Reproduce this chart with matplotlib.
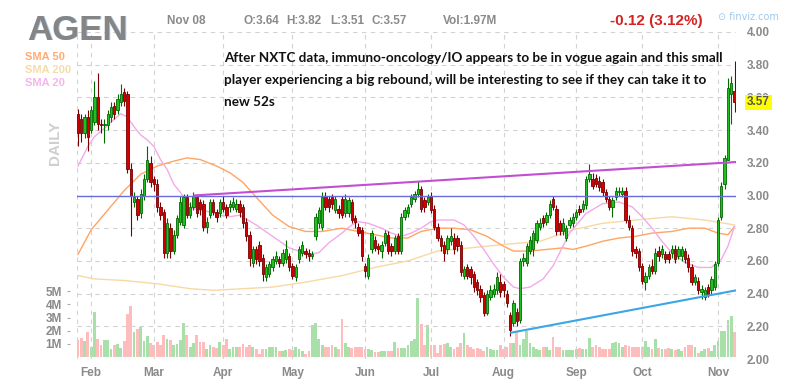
import matplotlib
matplotlib.use("Agg")
import matplotlib.pyplot as plt
import numpy as np

plt.rcParams['font.family'] = ['Liberation Sans', 'DejaVu Sans']

W, H = 796, 388

# ---------------- data ----------------
ticker = "AGEN"
month_labels = ['Feb', 'Mar', 'Apr', 'May', 'Jun', 'Jul', 'Aug', 'Sep', 'Oct', 'Nov']
month_idx = [4, 23, 44, 65, 87, 107, 129, 151, 171, 194]
price_ticks = [2.00, 2.20, 2.40, 2.60, 2.80, 3.00, 3.20, 3.40, 3.60, 3.80, 4.00]
vol_ticks = [1, 2, 3, 4, 5]
vol_tick_labels = ['1M', '2M', '3M', '4M', '5M']

opens = [
    3.50, 3.47, 3.38, 3.48, 3.40, 3.45, 3.60, 3.44, 3.43, 3.43,
    3.48, 3.55, 3.52, 3.57, 3.63, 3.62, 3.16, 2.96, 2.98, 2.89,
    3.00, 3.10, 3.20, 3.10, 3.07, 2.93, 2.90, 2.65, 2.80, 2.66,
    2.76, 2.84, 2.82, 2.99, 2.88, 2.93, 2.99, 2.96, 2.95, 2.81,
    2.88, 2.96, 2.90, 2.89, 2.96, 2.93, 2.93, 2.93, 2.92, 2.95,
    2.93, 2.84, 2.76, 2.59, 2.67, 2.70, 2.62, 2.50, 2.52, 2.56,
    2.60, 2.61, 2.59, 2.61, 2.63, 2.57, 2.50, 2.61, 2.65, 2.66,
    2.65, 2.63, 2.75, 2.83, 2.81, 3.00, 2.98, 2.99, 2.91, 2.92,
    2.98, 2.89, 2.89, 2.96, 2.86, 2.81, 2.79, 2.57, 2.51, 2.67,
    2.73, 2.69, 2.66, 2.71, 2.76, 2.69, 2.66, 2.75, 2.66, 2.87,
    2.89, 2.95, 2.98, 3.01, 3.04, 2.97, 2.96, 3.00, 2.92, 2.81,
    2.74, 2.70, 2.67, 2.72, 2.74, 2.74, 2.70, 2.51, 2.56, 2.55,
    2.52, 2.47, 2.43, 2.39, 2.28, 2.38, 2.40, 2.42, 2.47, 2.46,
    2.40, 2.27, 2.22, 2.29, 2.24, 2.60, 2.59, 2.66, 2.67, 2.73,
    2.81, 2.86, 2.84, 2.88, 2.98, 2.92, 2.83, 2.78, 2.74, 2.82,
    2.83, 2.87, 2.92, 2.92, 2.94, 3.10, 3.10, 3.11, 3.09, 3.08,
    3.02, 2.98, 2.93, 2.99, 3.02, 3.01, 3.03, 2.85, 2.80, 2.67,
    2.66, 2.57, 2.47, 2.51, 2.57, 2.54, 2.66, 2.64, 2.64, 2.64,
    2.65, 2.67, 2.63, 2.63, 2.66, 2.62, 2.56, 2.47, 2.48, 2.41,
    2.38, 2.44, 2.42, 2.44, 2.59, 2.87, 3.07, 3.22, 3.62, 3.64,
]
closes = [
    3.38, 3.38, 3.48, 3.36, 3.52, 3.60, 3.44, 3.43, 3.44, 3.50,
    3.54, 3.50, 3.59, 3.62, 3.58, 3.16, 3.00, 2.99, 2.88, 3.01,
    3.10, 3.22, 3.08, 3.07, 2.93, 2.88, 2.65, 2.83, 2.66, 2.76,
    2.86, 2.96, 2.99, 2.88, 2.93, 3.00, 2.89, 2.92, 2.81, 2.84,
    2.96, 2.90, 2.87, 2.96, 2.92, 2.88, 2.95, 2.96, 2.95, 2.90,
    2.83, 2.75, 2.62, 2.67, 2.61, 2.60, 2.52, 2.56, 2.58, 2.61,
    2.63, 2.59, 2.65, 2.67, 2.56, 2.51, 2.56, 2.67, 2.70, 2.64,
    2.63, 2.64, 2.87, 2.91, 2.99, 2.93, 2.93, 2.95, 2.98, 2.89,
    2.88, 2.98, 2.97, 2.85, 2.84, 2.77, 2.63, 2.54, 2.62, 2.77,
    2.68, 2.67, 2.70, 2.77, 2.66, 2.66, 2.74, 2.66, 2.87, 2.91,
    2.93, 2.99, 3.01, 3.04, 2.92, 2.93, 2.99, 2.91, 2.81, 2.74,
    2.69, 2.65, 2.74, 2.75, 2.67, 2.69, 2.53, 2.55, 2.51, 2.50,
    2.44, 2.42, 2.38, 2.28, 2.40, 2.42, 2.43, 2.50, 2.41, 2.42,
    2.34, 2.18, 2.34, 2.23, 2.60, 2.62, 2.69, 2.73, 2.77, 2.83,
    2.83, 2.83, 2.88, 2.95, 2.93, 2.78, 2.78, 2.83, 2.80, 2.85,
    2.87, 2.90, 2.90, 2.95, 3.10, 3.13, 3.06, 3.07, 3.05, 3.02,
    2.98, 2.93, 2.97, 3.03, 3.02, 3.03, 2.85, 2.81, 2.66, 2.65,
    2.56, 2.48, 2.51, 2.56, 2.54, 2.65, 2.63, 2.67, 2.61, 2.61,
    2.67, 2.61, 2.67, 2.67, 2.61, 2.56, 2.47, 2.50, 2.42, 2.43,
    2.42, 2.40, 2.49, 2.58, 2.85, 3.06, 3.23, 3.66, 3.69, 3.57,
]
highs = [
    3.53, 3.50, 3.50, 3.52, 3.55, 3.70, 3.75, 3.47, 3.47, 3.52,
    3.57, 3.57, 3.62, 3.68, 3.66, 3.64, 3.20, 3.02, 3.00, 3.04,
    3.13, 3.30, 3.24, 3.12, 3.10, 2.96, 2.92, 2.86, 2.83, 2.79,
    2.88, 3.00, 3.01, 3.01, 2.96, 3.02, 3.01, 2.98, 2.97, 2.87,
    2.98, 2.98, 2.92, 2.98, 3.00, 2.95, 2.97, 2.99, 2.98, 2.97,
    2.95, 2.86, 2.78, 2.69, 2.69, 2.72, 2.64, 2.58, 2.60, 2.63,
    2.66, 2.63, 2.67, 2.73, 2.65, 2.59, 2.58, 2.69, 2.72, 2.68,
    2.67, 2.66, 2.89, 2.93, 3.02, 3.02, 3.00, 3.01, 3.00, 2.94,
    3.00, 3.01, 2.99, 2.98, 2.88, 2.83, 2.81, 2.59, 2.64, 2.79,
    2.75, 2.71, 2.72, 2.79, 2.78, 2.71, 2.76, 2.77, 2.89, 2.93,
    2.95, 3.01, 3.03, 3.09, 3.06, 2.99, 3.01, 3.02, 2.94, 2.83,
    2.76, 2.72, 2.76, 2.80, 2.77, 2.76, 2.72, 2.57, 2.58, 2.57,
    2.54, 2.49, 2.45, 2.41, 2.42, 2.45, 2.46, 2.53, 2.52, 2.48,
    2.42, 2.29, 2.36, 2.31, 2.62, 2.65, 2.71, 2.75, 2.79, 2.85,
    2.86, 2.88, 2.90, 2.97, 3.00, 2.94, 2.85, 2.86, 2.82, 2.87,
    2.89, 2.92, 2.94, 2.97, 3.12, 3.19, 3.14, 3.13, 3.12, 3.10,
    3.04, 3.00, 2.99, 3.05, 3.05, 3.05, 3.05, 2.88, 2.82, 2.69,
    2.68, 2.59, 2.53, 2.58, 2.61, 2.68, 2.69, 2.70, 2.66, 2.66,
    2.70, 2.70, 2.69, 2.69, 2.68, 2.64, 2.58, 2.52, 2.50, 2.45,
    2.44, 2.46, 2.51, 2.60, 2.87, 3.08, 3.25, 3.72, 3.73, 3.82,
]
lows = [
    3.30, 3.33, 3.35, 3.27, 3.38, 3.43, 3.40, 3.38, 3.32, 3.40,
    3.45, 3.47, 3.50, 3.55, 3.55, 3.14, 2.75, 2.93, 2.85, 2.86,
    2.97, 3.08, 3.05, 3.03, 2.90, 2.85, 2.62, 2.62, 2.62, 2.64,
    2.74, 2.82, 2.80, 2.86, 2.86, 2.91, 2.87, 2.88, 2.78, 2.77,
    2.86, 2.88, 2.84, 2.87, 2.90, 2.86, 2.90, 2.91, 2.90, 2.87,
    2.80, 2.72, 2.57, 2.56, 2.58, 2.57, 2.48, 2.48, 2.50, 2.54,
    2.58, 2.56, 2.57, 2.59, 2.54, 2.49, 2.48, 2.59, 2.63, 2.62,
    2.60, 2.61, 2.73, 2.80, 2.79, 2.91, 2.90, 2.92, 2.89, 2.86,
    2.86, 2.87, 2.87, 2.83, 2.80, 2.75, 2.60, 2.50, 2.49, 2.65,
    2.66, 2.64, 2.62, 2.69, 2.64, 2.63, 2.64, 2.64, 2.64, 2.85,
    2.87, 2.93, 2.96, 2.99, 2.90, 2.90, 2.94, 2.89, 2.79, 2.72,
    2.66, 2.60, 2.64, 2.70, 2.64, 2.66, 2.51, 2.49, 2.49, 2.46,
    2.41, 2.39, 2.35, 2.26, 2.27, 2.36, 2.38, 2.40, 2.38, 2.38,
    2.32, 2.14, 2.20, 2.20, 2.22, 2.57, 2.57, 2.64, 2.63, 2.71,
    2.79, 2.81, 2.82, 2.86, 2.91, 2.76, 2.76, 2.76, 2.72, 2.80,
    2.81, 2.85, 2.88, 2.90, 2.92, 3.08, 3.04, 3.05, 3.03, 3.00,
    2.96, 2.91, 2.87, 2.97, 3.00, 2.99, 2.83, 2.79, 2.63, 2.62,
    2.54, 2.46, 2.42, 2.49, 2.52, 2.52, 2.60, 2.62, 2.59, 2.59,
    2.62, 2.59, 2.61, 2.60, 2.59, 2.53, 2.45, 2.45, 2.40, 2.37,
    2.36, 2.38, 2.40, 2.42, 2.57, 2.85, 3.04, 3.22, 3.44, 3.51,
]
volume_m = [
    1.27, 1.45, 1.25, 1.9, 0.8, 3.4, 1.4, 0.9, 1.3, 1.3,
    0.6, 0.9, 1.0, 0.7, 1.25, 3.25, 3.9, 1.9, 2.15, 2.25,
    1.25, 1.6, 1.05, 0.95, 1.15, 0.9, 1.65, 1.4, 1.3, 0.95,
    1.0, 1.3, 2.55, 1.65, 0.8, 1.1, 1.65, 1.15, 1.15, 0.6,
    0.9, 0.75, 0.7, 1.15, 0.9, 1.4, 0.65, 0.8, 0.8, 0.8,
    1.0, 0.75, 0.95, 0.75, 0.6, 0.25, 0.6, 0.6, 0.75, 0.75,
    0.75, 0.45, 0.5, 0.55, 0.65, 0.55, 0.75, 0.6, 0.45, 0.25,
    0.45, 2.4, 2.6, 1.4, 0.95, 0.75, 0.75, 0.9, 0.75, 0.6,
    2.9, 1.1, 0.75, 0.7, 0.8, 0.8, 0.8, 0.65, 0.65, 0.55,
    0.4, 0.4, 0.5, 0.45, 0.45, 0.45, 1.15, 0.7, 0.7, 0.7,
    0.95, 1.25, 1.35, 4.5, 2.5, 0.95, 2.4, 0.9, 0.95, 0.3,
    0.95, 1.0, 1.05, 0.75, 0.6, 0.8, 1.05, 1.8, 0.9, 0.75,
    0.6, 0.7, 0.6, 0.45, 0.75, 0.65, 0.55, 0.55, 0.9, 0.6,
    0.75, 1.1, 1.05, 2.0, 0.95, 1.4, 2.0, 1.05, 0.8, 0.6,
    0.55, 0.75, 0.8, 0.55, 1.5, 0.75, 0.75, 0.55, 0.55, 0.55,
    0.55, 0.6, 0.7, 0.6, 0.6, 1.45, 0.75, 0.95, 0.8, 0.6,
    0.6, 0.6, 1.05, 1.15, 1.05, 0.8, 0.95, 0.85, 0.75, 0.75,
    0.75, 0.75, 1.25, 0.75, 0.6, 1.4, 0.7, 0.6, 0.6, 0.7,
    0.6, 0.55, 0.6, 0.45, 0.75, 0.95, 0.95, 0.75, 0.35, 0.45,
    0.6, 0.7, 0.45, 0.95, 1.2, 1.95, 1.95, 2.85, 3.15, 1.9,
]

sma20_idx = [0, 3, 5, 8, 10, 13, 15, 17, 19, 21, 23, 25, 27, 29, 31, 33, 35, 37, 40, 43,
             46, 49, 54, 59, 64, 70, 73, 76, 80, 83, 85, 88, 92, 95, 98, 101, 104, 107, 109, 114,
             117, 120, 123, 126, 129, 132, 134, 137, 141, 144, 147, 149, 154, 159, 164, 168, 171, 174,
             177, 180, 184, 188, 192, 195, 197, 199]
sma20_val = [3.18, 3.30, 3.36, 3.41, 3.45, 3.50, 3.48, 3.42, 3.37, 3.34, 3.30, 3.22, 3.16, 3.07, 3.02,
             2.96, 2.92, 2.91, 2.90, 2.88, 2.87, 2.88, 2.82, 2.75, 2.68, 2.64, 2.65, 2.71, 2.77, 2.82,
             2.84, 2.83, 2.80, 2.77, 2.75, 2.77, 2.80, 2.84, 2.85, 2.85, 2.82, 2.75, 2.67, 2.58, 2.50,
             2.44, 2.43, 2.44, 2.49, 2.57, 2.69, 2.77, 2.89, 2.95, 2.96, 2.93, 2.87, 2.80, 2.72, 2.65,
             2.59, 2.56, 2.56, 2.61, 2.69, 2.81]
sma50_idx = [0, 4, 9, 14, 19, 24, 29, 33, 37, 42, 46, 50, 54, 59, 64, 69, 74, 80, 85, 90, 95, 100,
             104, 109, 114, 119, 124, 129, 132, 137, 142, 147, 150, 154, 159, 164, 169, 174, 180, 185,
             190, 194, 197, 199]
sma50_val = [2.64, 2.79, 2.91, 3.03, 3.13, 3.18, 3.21, 3.23, 3.22, 3.18, 3.14, 3.08, 2.99, 2.88, 2.81,
             2.78, 2.78, 2.80, 2.78, 2.76, 2.74, 2.74, 2.78, 2.80, 2.80, 2.79, 2.75, 2.69, 2.66, 2.66,
             2.67, 2.68, 2.67, 2.69, 2.72, 2.74, 2.75, 2.77, 2.78, 2.80, 2.80, 2.77, 2.76, 2.81]
sma200_idx = [0, 5, 14, 24, 34, 41, 50, 59, 69, 80, 90, 100, 109, 119, 129, 140, 150, 159, 169, 180,
              190, 199]
sma200_val = [2.51, 2.49, 2.48, 2.46, 2.43, 2.42, 2.43, 2.44, 2.47, 2.51, 2.56, 2.60, 2.66, 2.68, 2.70,
              2.72, 2.79, 2.83, 2.85, 2.87, 2.85, 2.82]

resistance_x = [35, 199.5]
resistance_y = [3.00, 3.205]
support_x = [131, 199.5]
support_y = [2.16, 2.42]
level_y = 3.00

note = ("After NXTC data, immuno-oncology/IO appears to be in vogue again and this small\n"
        "player experiencing a big rebound, will be interesting to see if they can take it to\n"
        "new 52s")

# ---------------- layout helpers ----------------
def fx(x):
    return x / W

def fy(y):
    return 1 - y / H

L, R, T, B = 77, 736, 32, 359
rect = [fx(L), fy(B), (R - L) / W, (B - T) / H]

fig = plt.figure(figsize=(W / 100, H / 100), dpi=100)
fig.patch.set_facecolor('white')

GRAY = '#8a8a8a'
GRID = '#d2d2d2'

axv = fig.add_axes(rect)
ax = fig.add_axes(rect, sharex=axv)
ax.patch.set_alpha(0)

n = len(closes)
idx = np.arange(n)
o = np.array(opens)
c = np.array(closes)
up = c >= o

# volume
axv.bar(idx, volume_m, width=0.85, color=np.where(up, '#a9dfa9', '#ffbcbc'), linewidth=0)
axv.set_ylim(-0.14, (B - T) / 13.2 - 0.14)
axv.set_xlim(-0.3, 199.45)
for s in axv.spines.values():
    s.set_visible(False)
axv.spines['left'].set_position(('outward', 7.5))
axv.set_yticks(vol_ticks)
axv.set_yticklabels(vol_tick_labels)
axv.tick_params(axis='y', direction='in', length=2.5, width=0.8, color='#aaaaaa', pad=3.5,
                labelsize=8.5, labelcolor=GRAY)
for t in axv.get_yticklabels():
    t.set_fontweight('bold')
axv.tick_params(axis='x', length=0, labelbottom=False)

# price axis
ax.set_ylim(2.0, 4.0)
for s in ax.spines.values():
    s.set_visible(False)
for p in price_ticks:
    ax.axhline(p, color=GRID, lw=0.8, ls=(0, (4, 4)), zorder=0)
for m in month_idx:
    ax.axvline(m, color=GRID, lw=0.8, ls=(0, (4, 4)), zorder=0)
ax.axvline(-0.3, color=GRID, lw=0.8, ls=(0, (4, 4)), zorder=0)
ax.axvline(199.45, color=GRID, lw=0.8, ls=(0, (4, 4)), zorder=0)

ax.yaxis.tick_right()
ax.set_yticks(price_ticks)
ax.set_yticklabels([f"{p:.2f}" for p in price_ticks])
ax.tick_params(axis='y', length=0, pad=8, labelsize=8.5, labelcolor=GRAY)
ax.set_xticks(month_idx)
ax.set_xticklabels(month_labels)
ax.tick_params(axis='x', length=0, pad=6, labelsize=8.5, labelcolor=GRAY)
for t in ax.get_yticklabels() + ax.get_xticklabels():
    t.set_fontweight('bold')

# SMAs
ax.plot(sma200_idx, sma200_val, color='#f7d9a3', lw=1.0, zorder=2)
ax.plot(sma50_idx, sma50_val, color='#ffa463', lw=1.0, zorder=2)
ax.plot(sma20_idx, sma20_val, color='#f3a9ea', lw=1.0, zorder=2)

# candles
edge = np.where(up, '#006a00', '#780000')
body = np.where(up, '#1fbf1f', '#d20000')
ax.vlines(idx, lows, highs, colors=edge, lw=0.8, zorder=3)
bottoms = np.minimum(o, c)
heights = np.maximum(np.abs(c - o), 0.006)
ax.bar(idx, heights, bottom=bottoms, width=0.7, color=body, edgecolor=edge, linewidth=0.6, zorder=4)

# drawn lines
ax.axhline(level_y, color='#6b6bdb', lw=1.0, zorder=5)
ax.plot(resistance_x, resistance_y, color='#c24fd0', lw=1.5, zorder=5, solid_capstyle='butt')
ax.plot(support_x, support_y, color='#3aa6e6', lw=1.5, zorder=5, solid_capstyle='butt')

# last price box
ax.annotate(f"{closes[-1]:.2f}", xy=(1, closes[-1]), xycoords=('axes fraction', 'data'),
            xytext=(8, 0), textcoords='offset points', ha='left', va='center',
            fontsize=8.5, fontweight='bold', color='#555555', zorder=10, annotation_clip=False,
            bbox=dict(boxstyle='square,pad=0.15', fc='#ffff00', ec='none'))

# note text (anchored at top of first line)
ax.text(fx(224), fy(52.5), note, transform=fig.transFigure, ha='left', va='top',
        fontsize=9.75, family=['Lato', 'DejaVu Sans'], fontweight='bold', color='#111111',
        linespacing=1.97, zorder=11)

# header
fig.text(fx(28.5), fy(40.5), ticker, fontsize=25, fontweight='bold', color='#a9cdf0', va='baseline')
fig.text(fx(27), fy(40), ticker, fontsize=25, fontweight='bold', color='#858585', va='baseline')
fig.text(fx(167), fy(24), "Nov 08", fontsize=8.5, fontweight='bold', color=GRAY, va='baseline')
for xx, s in [(243, "O:3.64"), (286, "H:3.82"), (330, "L:3.51"), (372, "C:3.57")]:
    fig.text(fx(xx), fy(24), s, fontsize=8.5, fontweight='bold', color=GRAY, va='baseline')
fig.text(fx(443), fy(24), "Vol:1.97M", fontsize=8.5, fontweight='bold', color=GRAY, va='baseline')
fig.text(fx(610), fy(25), "-0.12 (3.12%)", fontsize=11, fontweight='bold', color='#d42424', va='baseline')
fig.text(fx(718), fy(20.5), "\u2299 finviz.com", fontsize=7, color='#9ec9ec', va='baseline',
         family=['DejaVu Sans'])

# SMA legend
fig.text(fx(25), fy(60), "SMA 50", fontsize=8, fontweight='bold', color='#ffab73', va='baseline')
fig.text(fx(25), fy(73), "SMA 200", fontsize=8, fontweight='bold', color='#f5dcab', va='baseline')
fig.text(fx(25), fy(86), "SMA 20", fontsize=8, fontweight='bold', color='#f5b5ec', va='baseline')

fig.text(fx(55), fy(143), "DAILY", rotation=90, fontsize=11, fontweight='bold', color='#cfcfcf',
         ha='center', va='center')

fig.savefig('out.png', dpi=100, facecolor='white')
